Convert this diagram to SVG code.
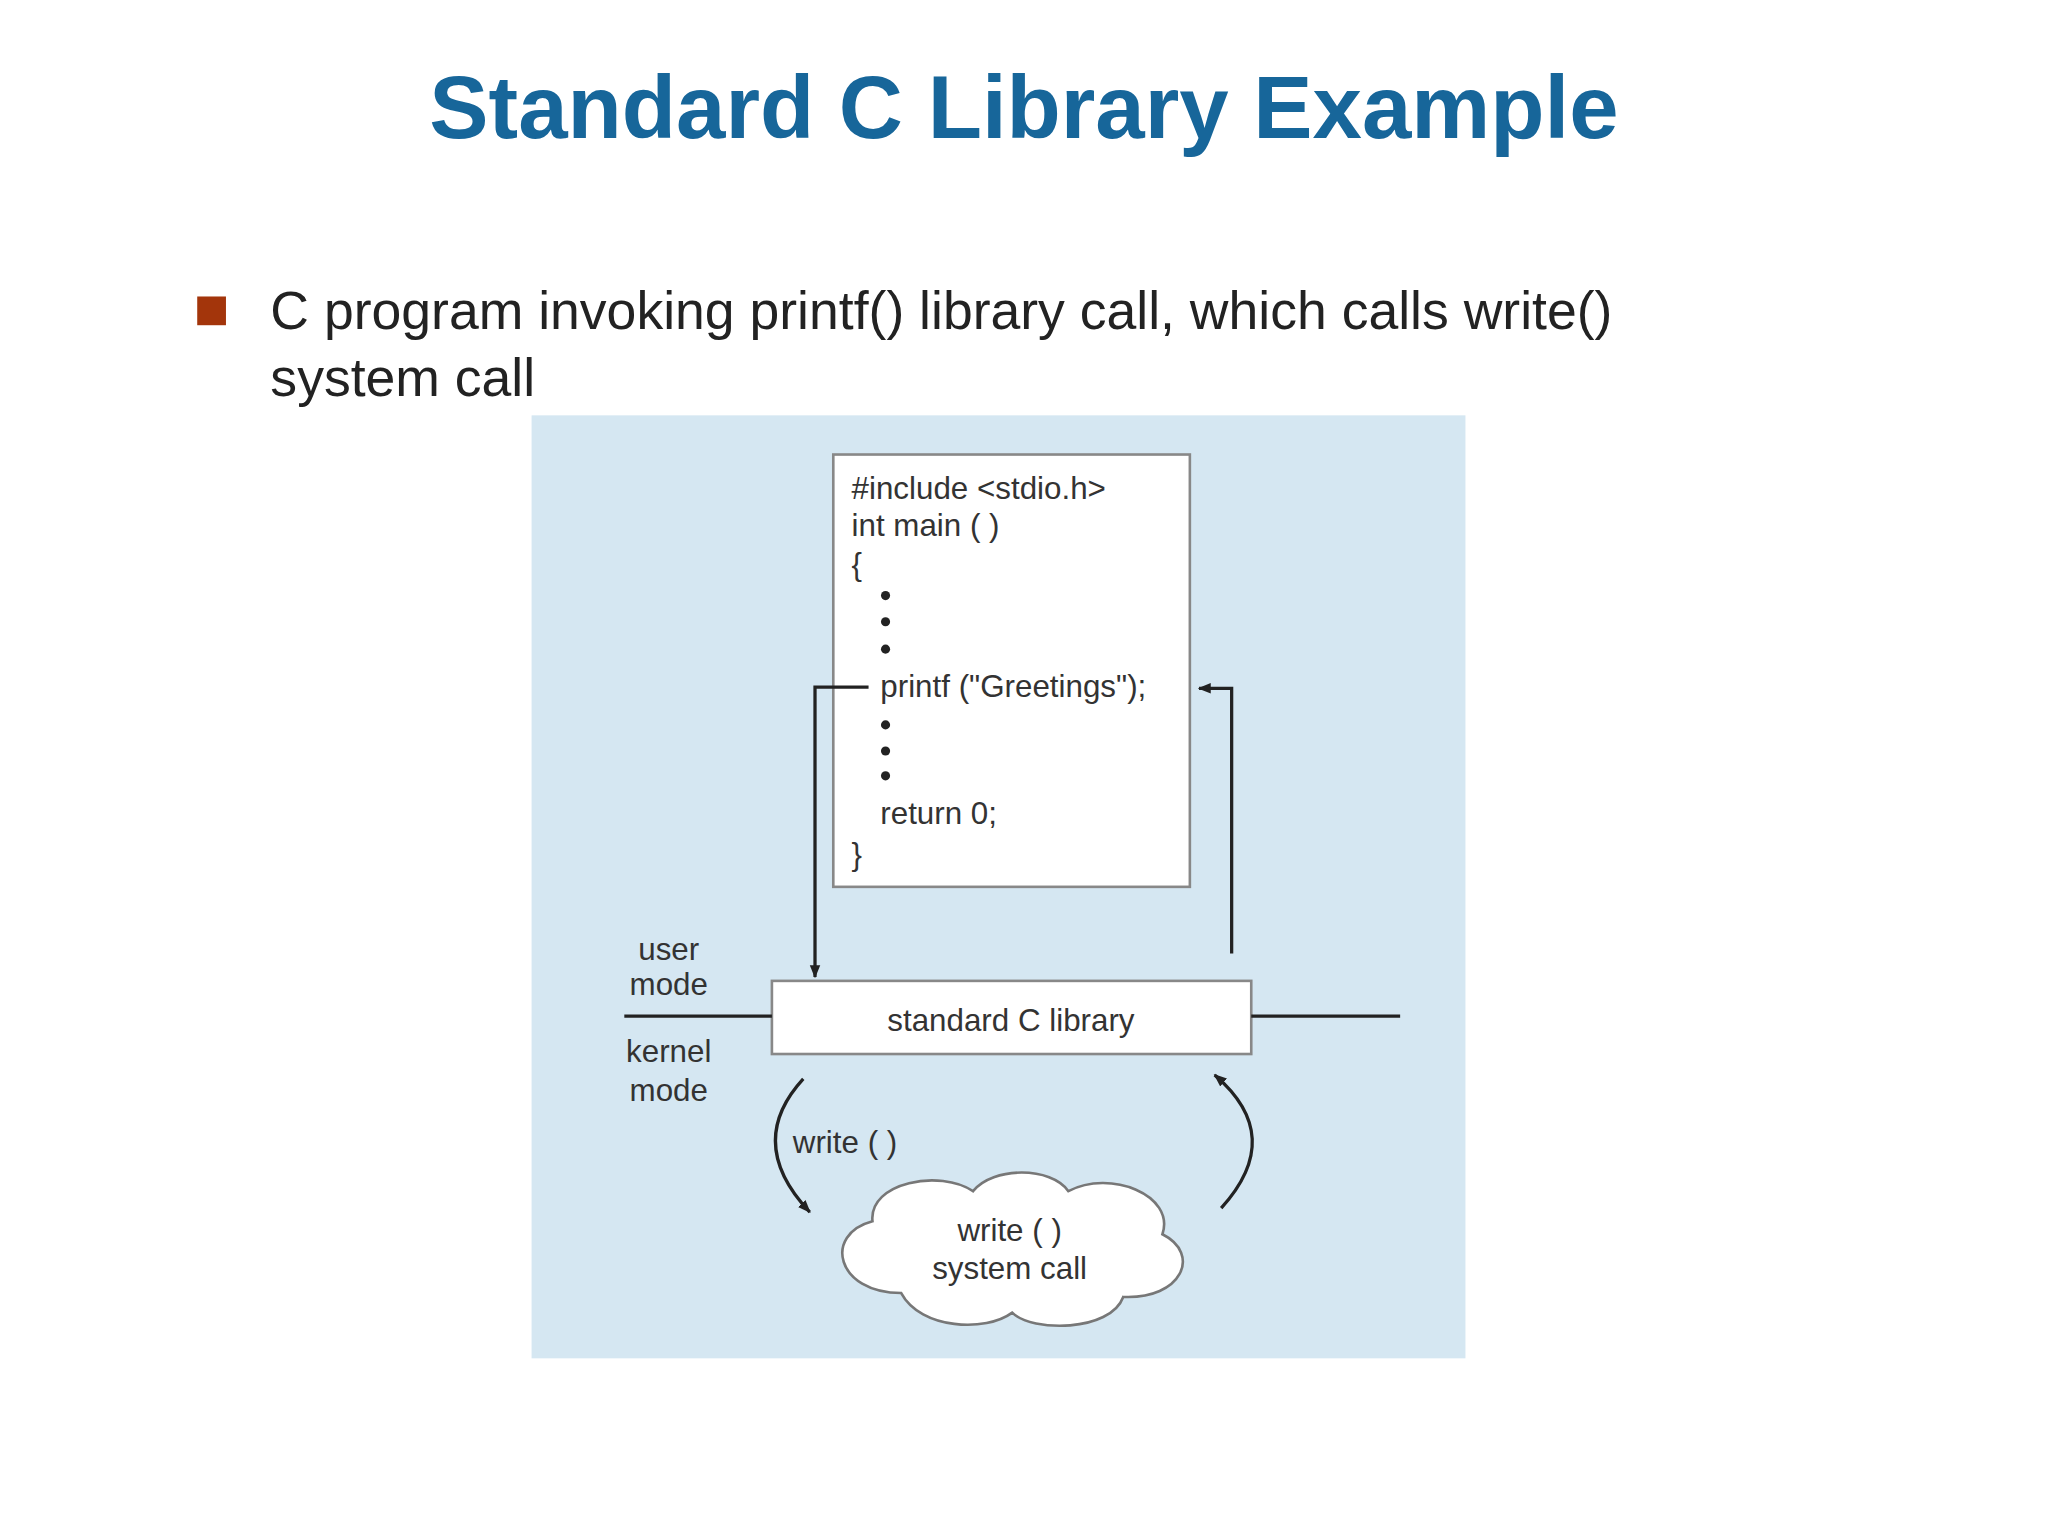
<svg xmlns="http://www.w3.org/2000/svg" width="2048" height="1536" viewBox="0 0 2048 1536">
<defs>
<marker id="ah" markerWidth="10" markerHeight="10" refX="9" refY="5" orient="auto" markerUnits="userSpaceOnUse"><path d="M0,1 L10,5 L0,9 z" fill="#222"/></marker>
<style>
.t{font-family:"Liberation Sans",Arial,sans-serif;fill:#222}
.c{font-family:"Liberation Sans",Arial,sans-serif;fill:#333;font-size:24px}
.ln{stroke:#222;stroke-width:2.5;fill:none}
</style>
</defs>
<rect width="2048" height="1536" fill="#fff"/>
<g transform="scale(1.3061)">
<text x="784" y="106" text-anchor="middle" style="font-family:'Liberation Sans',Arial,sans-serif;font-weight:bold;font-size:68px;fill:#17669a">Standard C Library Example</text>
<rect x="151" y="227" width="22" height="22" fill="#a3350b"/>
<text class="t" x="207" y="252" font-size="41">C program invoking printf() library call, which calls write()</text>
<text class="t" x="207" y="303" font-size="41">system call</text>
<rect x="407" y="318" width="715" height="722" fill="#d5e7f2"/>
<g id="code">
<rect x="638" y="348" width="273" height="331" fill="#fff" stroke="#888" stroke-width="2"/>
<text class="c" x="652" y="382">#include &lt;stdio.h&gt;</text>
<text class="c" x="652" y="410">int main ( )</text>
<text class="c" x="652" y="440">{</text>
<circle cx="678" cy="456" r="3.5" fill="#222"/><circle cx="678" cy="476" r="3.5" fill="#222"/><circle cx="678" cy="497" r="3.5" fill="#222"/>
<text class="c" x="674" y="534">printf ("Greetings");</text>
<circle cx="678" cy="555" r="3.5" fill="#222"/><circle cx="678" cy="575" r="3.5" fill="#222"/><circle cx="678" cy="594" r="3.5" fill="#222"/>
<text class="c" x="674" y="631">return 0;</text>
<text class="c" x="652" y="662">}</text>
</g>
<g id="lib">
<rect x="591" y="751" width="367" height="56" fill="#fff" stroke="#888" stroke-width="2"/>
<text class="c" x="774" y="789" text-anchor="middle">standard C library</text>
</g>
<g id="cloud">
<path d="M690,990 C640,990 630,945 668,935 C665,905 720,895 745,912 C760,893 805,893 818,912 C850,895 900,915 890,945 C920,960 905,995 860,993 C850,1020 790,1020 775,1005 C755,1020 705,1018 690,990 Z" fill="#fff" stroke="#777" stroke-width="2"/>
<text class="c" x="773" y="950" text-anchor="middle">write ( )</text>
<text class="c" x="773" y="979" text-anchor="middle">system call</text>
</g>
<g id="labels">
<text class="c" x="512" y="735" text-anchor="middle">user</text>
<text class="c" x="512" y="762" text-anchor="middle">mode</text>
<text class="c" x="512" y="813" text-anchor="middle">kernel</text>
<text class="c" x="512" y="843" text-anchor="middle">mode</text>
<text class="c" x="607" y="883">write ( )</text>
</g>
<g id="connectors">
<line class="ln" x1="478" y1="778" x2="591" y2="778"/>
<line class="ln" x1="958" y1="778" x2="1072" y2="778"/>
<path class="ln" d="M665,526 H624 V748" marker-end="url(#ah)"/>
<path class="ln" d="M943,730 V527 H918" marker-end="url(#ah)"/>
<path class="ln" d="M615,826 Q570,875 620,928" marker-end="url(#ah)"/>
<path class="ln" d="M935,925 Q985,870 930,823" marker-end="url(#ah)"/>
</g>
</g>
</svg>
